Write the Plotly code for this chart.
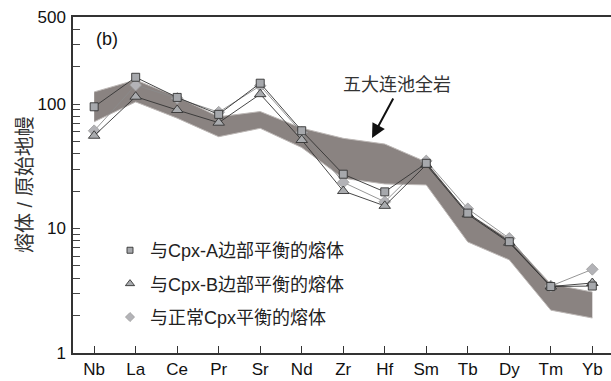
import plotly.graph_objects as go

elements = ["Nb", "La", "Ce", "Pr", "Sr", "Nd", "Zr", "Hf", "Sm", "Tb", "Dy", "Tm", "Yb"]

# Wudalianchi whole-rock range (upper and lower envelope)
band_upper = [125, 156, 114, 79, 87, 64, 53, 47.7, 34.2, 13.2, 8.2, 3.58, 3.09]
band_lower = [72, 104, 77, 54.6, 63.8, 44.7, 25.3, 22.8, 22.4, 7.8, 5.6, 2.21, 1.91]

# melts in equilibrium with Cpx-A rim, Cpx-B rim, normal Cpx
melt_a = [95, 164, 113, 82.6, 147, 61, 27.3, 19.7, 33.4, 13.3, 7.83, 3.42, 3.45]
melt_b = [55.6, 114.5, 89.5, 70.8, 120, 51.4, 20, 15.2, 32.5, 13, 7.69, 3.42, 3.65]
melt_n = [61, 142, 111, 86, 140, 59, 23.5, 16.4, 34.9, 14.4, 8.34, 3.45, 4.7]

names = ["与Cpx-A边部平衡的熔体", "与Cpx-B边部平衡的熔体", "与正常Cpx平衡的熔体"]
y_tickvals = [1, 2, 3, 4, 5, 6, 7, 8, 9, 10, 20, 30, 40, 50, 60, 70, 80, 90,
              100, 200, 300, 400, 500]
y_labelled = [1, 10, 100, 500]

FONT = "Liberation Sans, Arial, Noto Sans CJK SC, sans-serif"
band_fill = "#8a8381"
band_edge = "#bdb8b6"

fig = go.Figure()

fig.add_trace(go.Scatter(x=elements, y=band_lower, mode="lines",
                         line=dict(color=band_edge, width=1), showlegend=False,
                         hoverinfo="skip"))
fig.add_trace(go.Scatter(x=elements, y=band_upper, mode="lines", fill="tonexty",
                         fillcolor=band_fill, line=dict(color=band_edge, width=1),
                         showlegend=False, hoverinfo="skip"))

styles = [
    (melt_n, names[2], dict(symbol="diamond", size=9, color="#b3b3b7",
                            line=dict(color="#9c9c9c", width=0.8)), "#8a8a8a"),
    (melt_b, names[1], dict(symbol="triangle-up", size=10, color="#a9abae",
                            line=dict(color="#333333", width=0.9)), "#333333"),
    (melt_a, names[0], dict(symbol="square", size=8, color="#a6a8ac",
                            line=dict(color="#333333", width=0.9)), "#333333"),
]
for vals, nm, mk, lc in styles:
    fig.add_trace(go.Scatter(x=elements, y=vals, mode="lines+markers",
                             line=dict(color=lc, width=0.9), marker=mk,
                             showlegend=False, name=nm))

# legend-only entries (markers only)
leg = {names[0]: styles[2][2], names[1]: styles[1][2], names[2]: styles[0][2]}
for i, nm in enumerate(names):
    mk = dict(leg[nm])
    mk["size"] = mk["size"] - 2
    fig.add_trace(go.Scatter(x=[None], y=[None], mode="markers", marker=mk,
                             name=nm, legendgroup=str(i), showlegend=True))

fig.update_layout(
    width=611, height=381,
    margin=dict(l=73, r=0, t=17, b=28),
    paper_bgcolor="white", plot_bgcolor="white",
    font=dict(family=FONT, size=17, color="#111"),
    legend=dict(x=0.0688, y=0.36, xanchor="left", yanchor="top",
                bgcolor="rgba(0,0,0,0)", borderwidth=0,
                font=dict(family=FONT, size=18, color="#222"),
                tracegroupgap=7, itemsizing="trace"),
    xaxis=dict(range=[-0.51, 12.45], showline=True, linecolor="#333", linewidth=1.5,
               mirror=True, ticks="inside", ticklen=7, tickcolor="#333",
               showgrid=False, zeroline=False,
               tickfont=dict(family=FONT, size=17, color="#111")),
    yaxis=dict(type="log", range=[0, 2.69897], showline=True, linecolor="#333",
               linewidth=1.5, ticks="inside", ticklen=7, tickcolor="#444",
               tickwidth=1, tickvals=y_tickvals,
               ticktext=[str(v) if v in y_labelled else "" for v in y_tickvals],
               showgrid=False, zeroline=False, ticklabelstandoff=2,
               tickfont=dict(family=FONT, size=17, color="#111")),
    annotations=[
        dict(text="(b)", x=0.0632, y=0.9345, xref="paper", yref="paper",
             xanchor="center", yanchor="middle",
             showarrow=False, font=dict(family=FONT, size=18, color="#111")),
        dict(text="五大连池全岩", x=0.602, y=0.7976, xref="paper", yref="paper",
             xanchor="center", yanchor="middle",
             showarrow=False, font=dict(family=FONT, size=18, color="#333")),
        dict(text="", x=0.5558, y=0.6399, xref="paper", yref="paper",
             showarrow=True, ax=22, ay=-41, arrowhead=2, arrowsize=1.4,
             arrowwidth=2, arrowcolor="#111"),
        dict(text="熔体 / 原始地幔", x=-0.0892, y=0.5, xref="paper", yref="paper",
             xanchor="center", yanchor="middle",
             showarrow=False, textangle=-90,
             font=dict(family=FONT, size=20, color="#333")),
    ],
)

fig.write_html("out.html", config={"displayModeBar": False},
               post_script="document.body.style.margin='0';")
